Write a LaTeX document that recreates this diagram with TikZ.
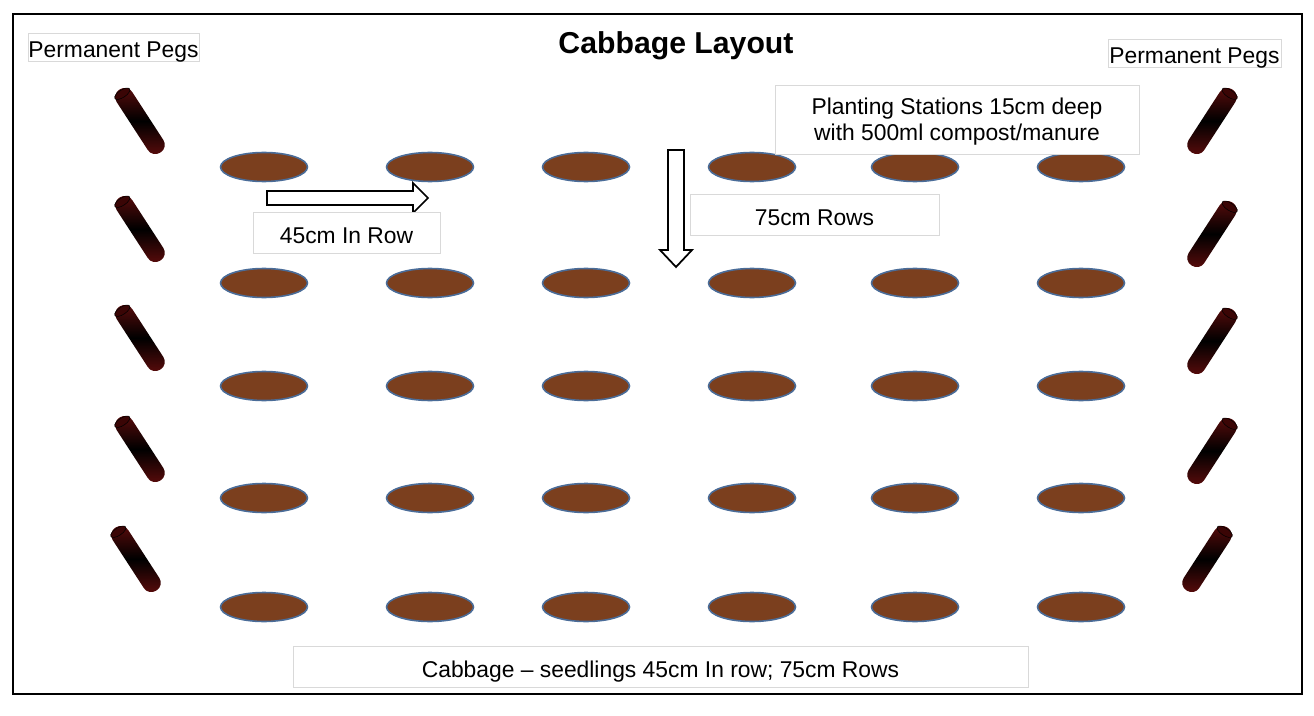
\documentclass[tikz,border=0pt]{standalone}
\usepackage{fontspec}
\setmainfont{Liberation Sans}
\usetikzlibrary{shapes.geometric, calc}
\definecolor{csoil}{HTML}{7B3F1E}
\definecolor{crim}{HTML}{4A6C98}
\definecolor{cpeg}{HTML}{5E0C0C}
\definecolor{ccap}{HTML}{3A0505}
\definecolor{cbox}{HTML}{D9D9D9}

\begin{document}
\begin{tikzpicture}[x=0.02cm, y=-0.02cm,
  stn/.style={ellipse, draw=crim, line width=0.9pt, fill=csoil,
              minimum width=1.74cm, minimum height=0.58cm, inner sep=0pt},
  peg/.style={rectangle, rounded corners=5pt, inner sep=0pt,
              minimum width=1.5cm, minimum height=0.37cm,
              top color=cpeg, bottom color=cpeg, middle color=black, rotate=#1},
  cap/.style={ellipse, fill=ccap, draw=black, line width=0.3pt, inner sep=0pt,
              minimum width=0.15cm, minimum height=0.35cm, rotate=#1},
  lbl/.style={draw=cbox, fill=white, line width=0.5pt, align=center,
              font=\fontsize{13}{14.6}\selectfont, inner sep=0pt, minimum width=#1},
  one/.style={text height=14pt, text depth=2pt},
  blk/.style={draw=black, line width=1pt, fill=white, line join=miter}
]
\useasboundingbox (0,0) rectangle (1314,716);

%% ── Frame
\draw[line width=1.1pt] (13,14) rectangle (1302,694);

%% ── Title
\node[font=\fontsize{17.2}{20}\selectfont\bfseries] (title) at (676,46) {Cabbage Layout};

%% ── Planting stations (5 rows x 6)
\foreach \r/\y in {1/167, 2/283, 3/386, 4/498, 5/607}{
  \foreach \c/\x in {1/264, 2/430, 3/586, 4/752, 5/915, 6/1081}{
    \node[stn] (s\r\c) at (\x,\y) {};
  }
}

%% ── Permanent pegs, left and right
\foreach \i/\x/\y in {1/140/121, 2/140/229, 3/140/338, 4/140/449, 5/136/559}{
  \node[peg=-57] (pl\i) at (\x,\y) {};
  \node[cap=-57] at ($(pl\i.west)!0.07!(pl\i.east)$) {};
}
\foreach \i/\x/\y in {1/1212/121, 2/1212/234, 3/1212/341, 4/1212/451, 5/1207/559}{
  \node[peg=57] (pr\i) at (\x,\y) {};
  \node[cap=57] at ($(pr\i.east)!0.07!(pr\i.west)$) {};
}

%% ── Spacing arrows
\draw[blk] (267,191) -- (413,191) -- (413,183) -- (428,198) -- (413,213)
  -- (413,205) -- (267,205) -- cycle;
\draw[blk] (668,150) -- (684,150) -- (684,250) -- (692,250) -- (676,267)
  -- (660,250) -- (668,250) -- cycle;

%% ── Labels
\node[lbl=3.42cm, one, minimum height=0.56cm] (pegsl) at (113.5,47) {Permanent Pegs};
\node[lbl=3.46cm, one, minimum height=0.56cm] (pegsr) at (1194.5,53) {Permanent Pegs};
\node[lbl=7.28cm, minimum height=1.38cm, text depth=-1.5pt] (stations) at (957,119.5)
  {Planting Stations 15cm deep\\with 500ml compost/manure};
\node[lbl=4.98cm, one, minimum height=0.82cm] (rowgap) at (814.5,214.5) {75cm Rows};
\node[lbl=3.74cm, one, minimum height=0.82cm] (inrow) at (346.5,232.5) {45cm In Row};
\node[lbl=14.7cm, one, minimum height=0.82cm] (summary) at (660.5,666.5)
  {Cabbage – seedlings 45cm In row; 75cm Rows};

\end{tikzpicture}
\end{document}
